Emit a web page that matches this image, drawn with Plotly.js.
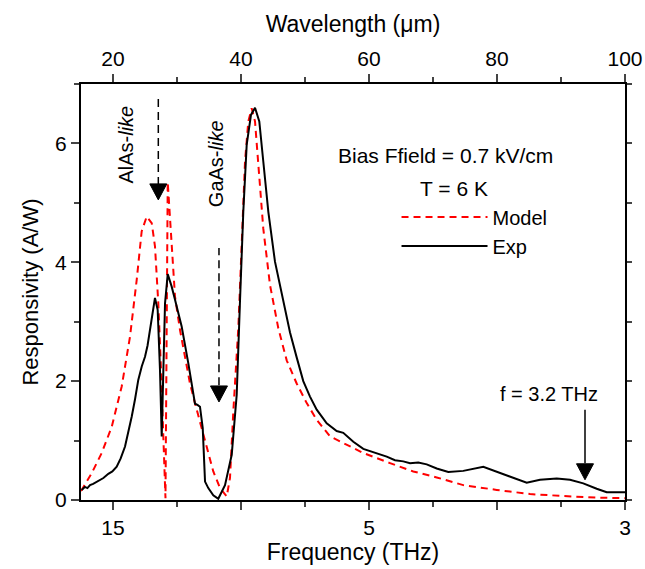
<!DOCTYPE html>
<html>
<head>
<meta charset="utf-8">
<script src="https://cdn.plot.ly/plotly-3.0.1.min.js"></script>
<style>html,body{margin:0;padding:0;background:#fff;}#chart{width:645px;height:569px;}</style>
</head>
<body>
<div id="chart"></div>
<script>
// Wavelength (um) and responsivity (A/W)
const expWavelength = [15.11,15.6,16.0,16.41,16.9,17.4,17.97,18.5,19.27,19.9,20.58,21.2,21.88,22.4,22.92,23.45,23.95,24.5,25.0,25.4,25.78,26.2,26.56,26.98,27.34,27.61,27.86,28.13,28.55,29.17,29.69,30.2,30.73,31.77,32.81,33.2,33.59,34.02,34.38,34.89,35.67,36.45,37.5,38.55,39.33,39.84,40.36,40.89,41.56,42.19,42.86,43.48,44.27,45.31,46.61,47.66,48.70,49.73,50.78,51.83,53.39,54.95,55.98,57.55,59.11,61.20,62.77,64.06,65.36,66.41,67.70,69.02,70.58,72.39,74.73,77.86,79.95,82.55,84.64,86.72,89.33,91.41,93.48,95.58,97.14,100];
const expResp = [0.17,0.22,0.20,0.25,0.27,0.30,0.34,0.37,0.44,0.48,0.56,0.70,0.90,1.14,1.40,1.70,2.02,2.25,2.41,2.60,2.86,3.12,3.40,3.20,2.19,1.07,2.19,3.31,3.80,3.59,3.37,3.15,2.92,2.30,1.62,1.60,1.57,1.21,0.31,0.20,0.08,0.02,0.25,0.76,1.77,3.34,4.85,5.98,6.48,6.60,6.37,5.70,4.85,4.01,3.34,2.82,2.40,2.00,1.74,1.52,1.29,1.16,1.13,0.98,0.86,0.79,0.73,0.67,0.65,0.62,0.63,0.60,0.53,0.47,0.49,0.56,0.48,0.37,0.29,0.34,0.36,0.34,0.28,0.19,0.13,0.13];

const modelWavelength = [15.0,15.36,16.67,18.23,19.80,21.36,22.66,23.70,24.48,25.27,26.05,26.56,27.08,27.50,27.86,28.20,28.55,28.91,29.27,29.69,30.47,31.25,32.03,32.81,33.59,34.11,34.64,35.67,36.72,37.77,38.28,38.80,39.58,40.11,40.63,41.14,41.67,42.19,42.70,43.48,44.53,45.83,47.14,48.70,50.27,51.83,53.91,56.52,59.11,63.28,66.92,70.58,74.73,79.95,85.16,90.36,95.58,100];
const modelResp = [0.15,0.22,0.45,0.79,1.23,1.91,2.75,3.70,4.52,4.77,4.66,4.27,3.31,2.19,1.07,0.03,5.35,4.71,3.98,3.42,2.86,2.41,1.96,1.63,1.32,1.07,0.87,0.48,0.20,0.06,0.37,1.49,2.89,4.29,5.70,6.37,6.59,6.37,5.70,4.57,3.62,2.89,2.35,1.96,1.63,1.35,1.07,0.93,0.79,0.62,0.48,0.38,0.25,0.17,0.10,0.067,0.04,0.03];

// Axis tick definitions
const wavelengthTicks = [20,40,60,80,100];
const wavelengthLabels = ['20','40','60','80','100'];
const freqLabels = ['15','','5','','3'];
const minorTicks = [30,50,70,90];
const yTicks = [0,2,4,6];

const FONT = 'Liberation Sans, Arial, sans-serif';

const traces = [
  {x: modelWavelength, y: modelResp, type: 'scatter', mode: 'lines', name: 'Model',
   line: {color: '#ff0000', width: 2, dash: '7px,5px'}, xaxis: 'x', yaxis: 'y'},
  {x: expWavelength, y: expResp, type: 'scatter', mode: 'lines', name: 'Exp',
   line: {color: '#000000', width: 2}, xaxis: 'x', yaxis: 'y'},
  // empty carriers so the top (wavelength) axis and right axis are drawn
  {x: [], y: [], type: 'scatter', mode: 'lines', xaxis: 'x2', yaxis: 'y', showlegend: false, hoverinfo: 'skip'},
  {x: [], y: [], type: 'scatter', mode: 'lines', xaxis: 'x', yaxis: 'y2', showlegend: false, hoverinfo: 'skip'}
];

function tri(x, y) {
  return {type: 'path', xref: 'x', yref: 'y', xsizemode: 'pixel', ysizemode: 'pixel',
          xanchor: x, yanchor: y, path: 'M-8.5,16 L8.5,16 L0,0 Z',
          fillcolor: '#000', line: {color: '#000', width: 1}};
}

const layout = {
  width: 645, height: 569,
  margin: {l: 81, r: 20, t: 84, b: 69, pad: 0},
  paper_bgcolor: '#fff', plot_bgcolor: '#fff',
  font: {family: FONT, size: 20, color: '#000'},
  showlegend: true,
  legend: {x: 0.58, y: 0.727, xanchor: 'left', yanchor: 'top', bgcolor: 'rgba(0,0,0,0)',
           font: {family: FONT, size: 20}, itemwidth: 86, tracegroupgap: 0},
  xaxis: {range: [15, 100], tickmode: 'array', tickvals: wavelengthTicks, ticktext: freqLabels,
          ticks: 'outside', ticklen: 8, tickwidth: 2, showline: true, linewidth: 2, linecolor: '#000',
          showgrid: false, zeroline: false, tickfont: {size: 21},
          minor: {tickmode: 'array', tickvals: minorTicks, ticks: 'outside', ticklen: 5, tickwidth: 2, showgrid: false},
          title: {text: 'Frequency (THz)', font: {size: 23}, standoff: 6}},
  xaxis2: {range: [15, 100], overlaying: 'x', side: 'top', anchor: 'y', tickmode: 'array',
           tickvals: wavelengthTicks, ticktext: wavelengthLabels,
           ticks: 'outside', ticklen: 8, tickwidth: 2, showline: true, linewidth: 2, linecolor: '#000',
           showgrid: false, zeroline: false, tickfont: {size: 21},
           minor: {tickmode: 'array', tickvals: minorTicks, ticks: 'outside', ticklen: 5, tickwidth: 2, showgrid: false},
           title: {text: 'Wavelength (μm)', font: {size: 23}, standoff: 8}},
  yaxis: {range: [0, 7], tickmode: 'array', tickvals: yTicks, ticks: 'outside', ticklen: 8, tickwidth: 2,
          showline: true, linewidth: 2, linecolor: '#000', showgrid: false, zeroline: false,
          tickfont: {size: 21},
          minor: {dtick: 1, ticks: 'outside', ticklen: 5, tickwidth: 2, showgrid: false},
          title: {text: 'Responsivity (A/W)', font: {size: 22}, standoff: 10}},
  yaxis2: {range: [0, 7], overlaying: 'y', side: 'right', anchor: 'x', tickmode: 'linear', tick0: 0, dtick: 1,
           ticks: 'outside', ticklen: 5, tickwidth: 2, showticklabels: false, showline: true, linewidth: 2,
           linecolor: '#000', showgrid: false, zeroline: false},
  shapes: [
    {type: 'line', xref: 'x', yref: 'y', x0: 27.08, x1: 27.08, y0: 5.3, y1: 6.77,
     line: {color: '#000', width: 1.5, dash: '8px,5px'}},
    tri(27.08, 5.05),
    {type: 'line', xref: 'x', yref: 'y', x0: 36.56, x1: 36.56, y0: 1.93, y1: 4.24,
     line: {color: '#000', width: 1.5, dash: '8px,5px'}},
    tri(36.56, 1.65),
    {type: 'line', xref: 'x', yref: 'y', x0: 93.75, x1: 93.75, y0: 0.62, y1: 1.52,
     line: {color: '#000', width: 1.5}},
    tri(93.75, 0.34)
  ],
  annotations: [
    {x: 22.03, y: 5.98, xref: 'x', yref: 'y', text: 'AlAs-<i>like</i>', textangle: -90,
     showarrow: false, font: {size: 20}},
    {x: 36.02, y: 5.66, xref: 'x', yref: 'y', text: 'GaAs-<i>like</i>', textangle: -90,
     showarrow: false, font: {size: 20}},
    {x: 72.03, y: 5.79, xref: 'x', yref: 'y', text: 'Bias Ffield = 0.7 kV/cm', showarrow: false, font: {size: 21}},
    {x: 73.28, y: 5.25, xref: 'x', yref: 'y', text: 'T = 6 K', showarrow: false, font: {size: 21}},
    {x: 88.13, y: 1.78, xref: 'x', yref: 'y', text: 'f = 3.2 THz', showarrow: false, font: {size: 20}}
  ]
};

Plotly.newPlot('chart', traces, layout, {displayModeBar: false, staticPlot: true});
</script>
</body>
</html>
